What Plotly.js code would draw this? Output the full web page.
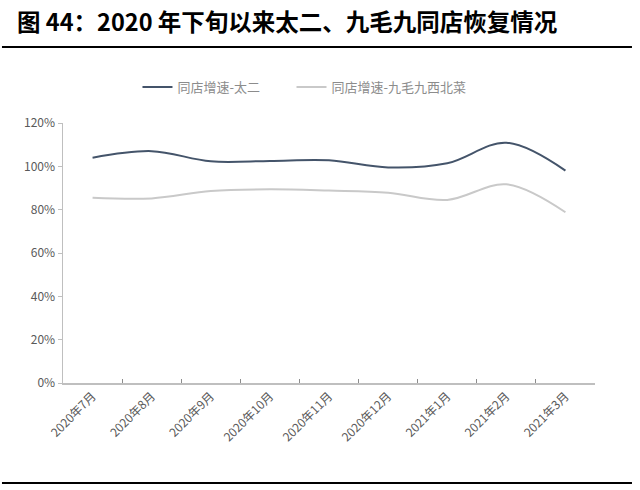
<!DOCTYPE html>
<html>
<head>
<meta charset="utf-8">
<script src="https://cdn.plot.ly/plotly-3.0.1.min.js"></script>
<style>
  html, body { margin: 0; padding: 0; background: #ffffff; }
  #grafico { width: 640px; height: 490px; }
</style>
</head>
<body>
<div id="grafico"></div>
<script>
// Datos (同店增速)
const meses = ['2020年7月', '2020年8月', '2020年9月', '2020年10月', '2020年11月',
               '2020年12月', '2021年1月', '2021年2月', '2021年3月'];
const taiEr = [1.04, 1.07, 1.023, 1.025, 1.028, 0.995, 1.014, 1.109, 0.98];
const jiuMaoJiu = [0.855, 0.852, 0.886, 0.894, 0.888, 0.878, 0.845, 0.917, 0.788];
const nombres = ['同店增速-太二', '同店增速-九毛九西北菜'];

const fuente = '"Noto Sans CJK SC", "Noto Sans", sans-serif';

const trazaTaiEr = {
  x: meses,
  y: taiEr,
  mode: 'lines',
  name: nombres[0],
  legend: 'legend',
  line: { color: '#44546a', width: 2, shape: 'spline', smoothing: 1 }
};

const trazaJiuMaoJiu = {
  x: meses,
  y: jiuMaoJiu,
  mode: 'lines',
  name: nombres[1],
  legend: 'legend2',
  line: { color: '#c9c9c9', width: 2, shape: 'spline', smoothing: 1 }
};

// cada serie con su propia leyenda para respetar la separación del original
const estiloLeyenda = {
  orientation: 'h',
  xanchor: 'left',
  y: 1.138, yanchor: 'middle',
  font: { family: fuente, size: 13, color: '#8c8c8c' },
  bgcolor: 'rgba(0,0,0,0)'
};

const layout = {
  width: 640,
  height: 490,
  margin: { l: 63, r: 45, t: 123, b: 107 },
  paper_bgcolor: '#ffffff',
  plot_bgcolor: '#ffffff',
  showlegend: true,
  title: {
    text: '<b>图 44：2020 年下旬以来太二、九毛九同店恢复情况</b>',
    font: { family: fuente, size: 23.5, color: '#000000' },
    xref: 'container', x: 17 / 640, xanchor: 'left',
    yref: 'container', y: 1 - 23 / 490, yanchor: 'middle'
  },
  legend: { ...estiloLeyenda, x: 0.14 },
  legend2: { ...estiloLeyenda, x: 0.4295 },
  xaxis: {
    type: 'category',
    range: [-0.5, meses.length - 0.5],
    showgrid: false,
    showline: true,
    linecolor: '#bfbfbf',
    linewidth: 1.5,
    ticks: 'inside',
    tickson: 'boundaries',
    ticklen: 4,
    tickcolor: '#8c8c8c',
    tickangle: -45,
    tickfont: { family: fuente, size: 12, color: '#595959' },
    zeroline: false,
    fixedrange: true
  },
  yaxis: {
    range: [0, 1.2],
    dtick: 0.2,
    tickformat: '.0%',
    showgrid: false,
    showline: true,
    linecolor: '#bfbfbf',
    linewidth: 1.5,
    ticks: 'outside',
    ticklen: 4,
    tickcolor: '#bfbfbf',
    tickfont: { family: fuente, size: 12, color: '#595959' },
    zeroline: false,
    fixedrange: true
  },
  shapes: [
    { type: 'line', xref: 'paper', yref: 'paper', x0: -0.1147, x1: 1.0695, y0: 1.2923, y1: 1.2923,
      line: { color: '#000000', width: 2 } },
    { type: 'line', xref: 'paper', yref: 'paper', x0: -0.1147, x1: 1.0695, y0: -0.3846, y1: -0.3846,
      line: { color: '#000000', width: 2 } }
  ]
};

const config = { staticPlot: true, displayModeBar: false };

Plotly.newPlot('grafico', [trazaTaiEr, trazaJiuMaoJiu], layout, config);
</script>
</body>
</html>
